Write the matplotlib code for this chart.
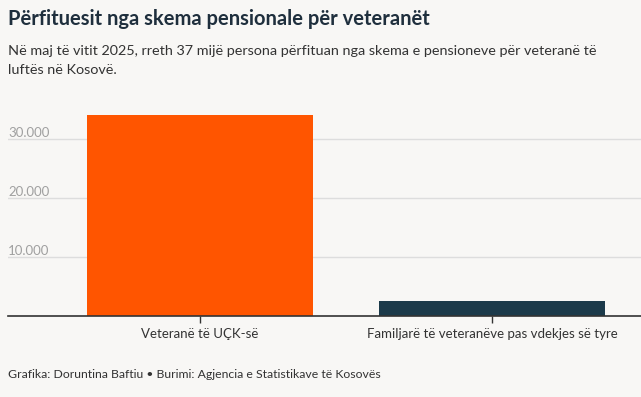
import matplotlib
matplotlib.use("Agg")
import matplotlib.pyplot as plt
import matplotlib.transforms as mtransforms

categories = ["Veteranë të UÇK-së", "Familjarë të veteranëve pas vdekjes së tyre"]
values = [34100, 2550]
colors = ["#ff5500", "#1c3a4a"]
y_ticks = [10000, 20000, 30000]
y_tick_labels = ["10.000", "20.000", "30.000"]

title = "Përfituesit nga skema pensionale për veteranët"
subtitle = ("Në maj të vitit 2025, rreth 37 mijë persona përfituan nga skema e pensioneve për veteranë të\n"
            "luftës në Kosovë.")
footer = "Grafika: Doruntina Baftiu • Burimi: Agjencia e Statistikave të Kosovës"

bg = "#f8f7f5"
W, H = 641, 397
plt.rcParams["font.family"] = ["Lato", "DejaVu Sans"]

fig = plt.figure(figsize=(W / 100, H / 100), dpi=100, facecolor=bg)
# axes: left edge x=8, baseline y=316
left, right = 8 / W, 1.0
bottom = 1 - 316 / H
ymax = 36000
height = ymax / 10000 * 59 / H
ax = fig.add_axes([left, bottom, right - left, height], facecolor=bg)

x = list(range(len(categories)))
ax.bar(x, values, width=0.774, color=colors, zorder=2)
ax.set_xlim(-0.658, 1.51)
ax.set_ylim(0, ymax)

ax.set_yticks(y_ticks)
ax.set_yticklabels([])
ax.tick_params(axis="y", length=0)
ax.grid(axis="y", color="#dddddd", linewidth=1, zorder=0)
trans = mtransforms.blended_transform_factory(ax.transAxes, ax.transData)
for v, lab in zip(y_ticks, y_tick_labels):
    ax.text(0, v, lab, transform=trans, ha="left", va="bottom", fontsize=9.5,
            color="#a0a0a0")

ax.set_xticks(x)
ax.set_xticklabels(categories, fontsize=9.5, color="#333333")
ax.tick_params(axis="x", length=5, width=1, color="#333333", pad=4)

for s in ["top", "right", "left"]:
    ax.spines[s].set_visible(False)
ax.spines["bottom"].set_color("#333333")
ax.spines["bottom"].set_linewidth(1.2)
ax.spines["bottom"].set_zorder(3)

fig.text(8 / W, 1 - 9 / H, title, ha="left", va="top", fontsize=14.5,
         fontweight="bold", color="#1f2f3d")
fig.text(8 / W, 1 - 45 / H, subtitle, ha="left", va="top", fontsize=10.4,
         color="#333333", linespacing=1.75)
fig.text(8 / W, 1 - 369 / H, footer, ha="left", va="top", fontsize=8.8,
         color="#333333")

fig.savefig("out.png", dpi=100, facecolor=bg)
